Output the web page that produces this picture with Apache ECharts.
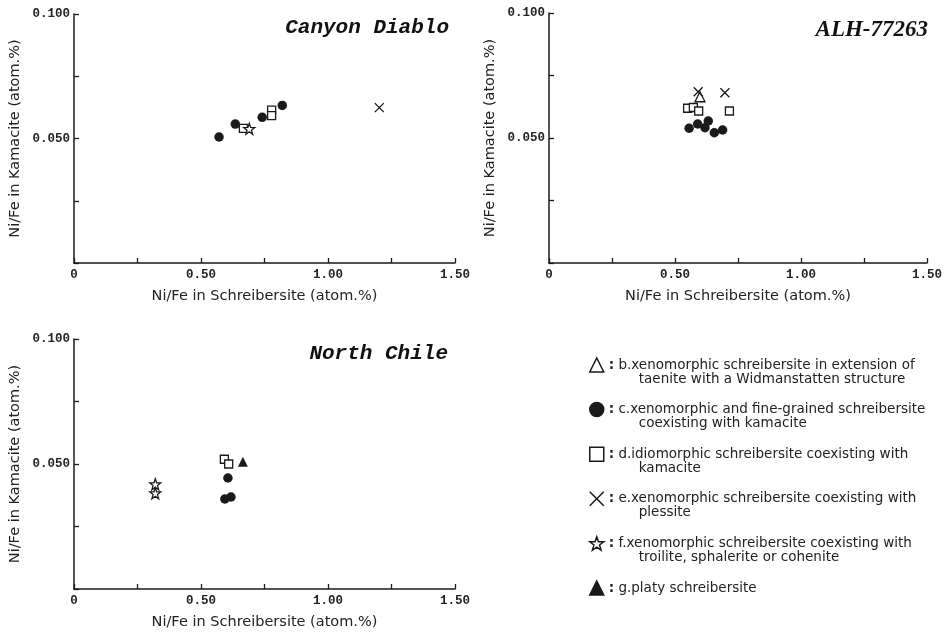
<!DOCTYPE html>
<html>
<head>
<meta charset="utf-8">
<script src="https://cdn.jsdelivr.net/npm/echarts@6/dist/echarts.min.js"></script>
<style>
  html, body { margin: 0; padding: 0; background: #fff; }
  #chart { width: 949px; height: 635px; }
</style>
</head>
<body>
<div id="chart"></div>
<script>
// tick labels
const xTickLabels = ["0", "0.50", "1.00", "1.50"];
const yTickLabels = ["0.050", "0.100"];
const panelTitles = ["Canyon Diablo", "ALH-77263", "North Chile"];

// [Ni/Fe in schreibersite, Ni/Fe in kamacite]
// Canyon Diablo
const canyonC = [[0.571, 0.0506], [0.635, 0.0558], [0.741, 0.0585], [0.820, 0.0633]];
const canyonD = [[0.667, 0.0541], [0.778, 0.0614], [0.778, 0.0592]];
const canyonE = [[1.202, 0.0624]];
const canyonF = [[0.690, 0.0539]];
// ALH-77263
const alhB = [[0.599, 0.0665]];
const alhC = [[0.556, 0.0539], [0.590, 0.0556], [0.619, 0.0541], [0.632, 0.0568], [0.656, 0.0521], [0.689, 0.0532]];
const alhD = [[0.550, 0.0619], [0.573, 0.0622], [0.594, 0.0608], [0.716, 0.0608]];
const alhE = [[0.592, 0.0685], [0.698, 0.0681]];
// North Chile
const chileC = [[0.606, 0.0444], [0.594, 0.0360], [0.618, 0.0368]];
const chileD = [[0.592, 0.0519], [0.609, 0.0500]];
const chileF = [[0.320, 0.0419], [0.320, 0.0383]];
const chileG = [[0.665, 0.0509]];

// legend names (line 1, line 2)
const legB = ["b.xenomorphic schreibersite in extension of", "taenite with a Widmanstatten structure"];
const legC = ["c.xenomorphic and fine-grained schreibersite", "coexisting with kamacite"];
const legD = ["d.idiomorphic schreibersite coexisting with", "kamacite"];
const legE = ["e.xenomorphic schreibersite coexisting with", "plessite"];
const legF = ["f.xenomorphic schreibersite coexisting with", "troilite, sphalerite or cohenite"];
const legG = ["g.platy schreibersite", ""];

const starPath = "path://M0,-10L2.35,-3.24L9.51,-3.09L3.8,1.24L5.88,8.09L0,4L-5.88,8.09L-3.8,1.24L-9.51,-3.09L-2.35,-3.24Z";
const crossPath = "path://M0,0L10,10M0,10L10,0";

const ink = "#1a1a1a";

const types = {
  b: { leg: legB, symbol: "triangle", size: 10, filled: false },
  c: { leg: legC, symbol: "circle", size: 9.5, filled: true },
  d: { leg: legD, symbol: "rect", size: 8, filled: false },
  e: { leg: legE, symbol: crossPath, size: 9, filled: false },
  f: { leg: legF, symbol: starPath, size: 11, filled: false },
  g: { leg: legG, symbol: "triangle", size: 10, filled: true }
};

function legName(t) {
  return types[t].leg.join("|");
}

function makeSeries(gridIndex, t, data) {
  const ty = types[t];
  return {
    name: legName(t),
    type: "scatter",
    xAxisIndex: gridIndex,
    yAxisIndex: gridIndex,
    symbol: ty.symbol,
    symbolSize: ty.size,
    data: data,
    itemStyle: {
      color: ty.filled ? ink : "#fff",
      borderColor: ink,
      borderWidth: ty.filled ? 0 : 1.3,
      opacity: 1
    },
    emphasis: { disabled: true },
    z: t === "c" ? 2 : 3
  };
}

const grids = [
  { left: 74, top: 14, width: 381, height: 249 },
  { left: 549, top: 13, width: 378, height: 250 },
  { left: 74, top: 339, width: 381, height: 250 }
];

const axisFont = { fontFamily: "Liberation Mono", fontSize: 12.5, fontWeight: "bold", color: "#222" };
const nameFont = { fontFamily: "DejaVu Sans", fontSize: 14.5, color: "#222" };

const xAxes = grids.map((g, i) => ({
  gridIndex: i,
  type: "value",
  min: 0,
  max: 1.5,
  interval: 0.25,
  name: "Ni/Fe in Schreibersite (atom.%)",
  nameLocation: "middle",
  nameGap: 26,
  nameTextStyle: nameFont,
  axisLine: { lineStyle: { color: ink, width: 1.5 } },
  axisTick: { inside: true, length: 5, lineStyle: { color: ink, width: 1.3 } },
  splitLine: { show: false },
  axisLabel: Object.assign({}, axisFont, {
    margin: 5,
    formatter: v => {
      const k = Math.round(v / 0.5);
      return Math.abs(v - k * 0.5) < 1e-9 ? xTickLabels[k] : "";
    }
  })
}));

const yAxes = grids.map((g, i) => ({
  gridIndex: i,
  type: "value",
  min: 0,
  max: 0.1,
  interval: 0.025,
  name: "Ni/Fe in Kamacite (atom.%)",
  nameLocation: "middle",
  nameGap: 51,
  nameTextStyle: nameFont,
  axisLine: { lineStyle: { color: ink, width: 1.5 } },
  axisTick: { inside: true, length: 5, lineStyle: { color: ink, width: 1.3 } },
  splitLine: { show: false },
  axisLabel: Object.assign({}, axisFont, {
    margin: 4,
    formatter: v => {
      if (Math.abs(v - 0.05) < 1e-9) return yTickLabels[0];
      if (Math.abs(v - 0.1) < 1e-9) return yTickLabels[1];
      return "";
    }
  })
}));

const series = [
  makeSeries(0, "c", canyonC),
  makeSeries(0, "d", canyonD),
  makeSeries(0, "e", canyonE),
  makeSeries(0, "f", canyonF),
  makeSeries(1, "b", alhB),
  makeSeries(1, "c", alhC),
  makeSeries(1, "d", alhD),
  makeSeries(1, "e", alhE),
  makeSeries(2, "c", chileC),
  makeSeries(2, "d", chileD),
  makeSeries(2, "f", chileF),
  makeSeries(2, "g", chileG)
];

const titleMono = { fontFamily: "Liberation Mono", fontSize: 21, fontWeight: "bold", fontStyle: "italic", color: "#111" };

const option = {
  backgroundColor: "#fff",
  animation: false,
  title: [
    { text: panelTitles[0], right: 500, top: 17, padding: 0, textStyle: titleMono },
    { text: panelTitles[1], right: 21, top: 19, padding: 0,
      textStyle: { fontFamily: "Liberation Serif", fontSize: 23, fontStyle: "italic", color: "#111" } },
    { text: panelTitles[2], right: 501, top: 343, padding: 0, textStyle: titleMono }
  ],
  grid: grids,
  xAxis: xAxes,
  yAxis: yAxes,
  legend: {
    left: 589,
    top: 344,
    orient: "vertical",
    padding: 0,
    itemWidth: 14,
    itemHeight: 14,
    itemGap: 2.6,
    selectedMode: false,
    data: ["b", "c", "d", "e", "f", "g"].map(legName),
    formatter: name => {
      const parts = name.split("|");
      return "\n{c|:} " + parts[0] + "\n" + "       " + (parts[1] || " ");
    },
    textStyle: {
      fontFamily: "DejaVu Sans",
      fontSize: 13.5,
      color: "#222",
      lineHeight: 14,
      padding: [0, 0, 0, 0],
      rich: {
        c: { fontFamily: "DejaVu Sans", fontSize: 13.5, fontWeight: "bold", color: "#222", lineHeight: 14 }
      }
    },
    itemStyle: { borderWidth: 1.5 }
  },
  series: series
};

const chart = echarts.init(document.getElementById("chart"), null, { renderer: "canvas" });
chart.setOption(option);
</script>
</body>
</html>
